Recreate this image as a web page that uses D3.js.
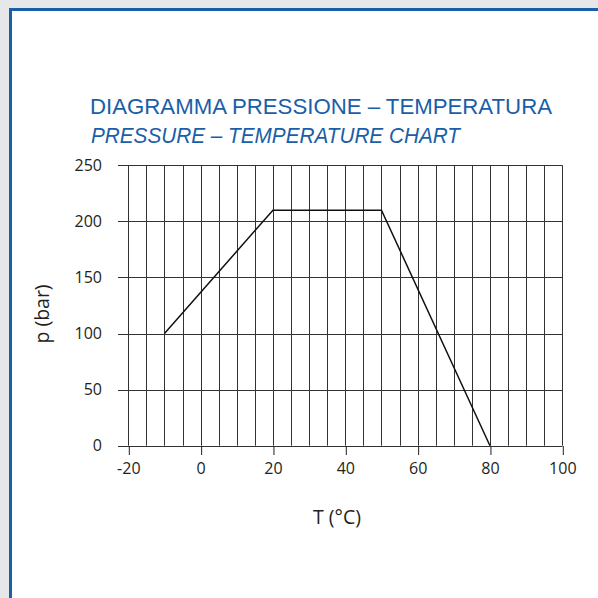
<!DOCTYPE html>
<html><head><meta charset="utf-8">
<script src="https://cdn.jsdelivr.net/npm/d3@7"></script>
<style>html,body{margin:0;padding:0;background:#e6e7e8;}svg{display:block;}</style>
</head><body>
<script>
const temps = [-10, 20, 50, 80];
const pressures = [100, 210, 210, 0];
const xTickValues = [-20, 0, 20, 40, 60, 80, 100];
const yTickValues = [0, 50, 100, 150, 200, 250];
const xGridValues = d3.range(-20, 101, 5);
const titleIt = "DIAGRAMMA PRESSIONE – TEMPERATURA";
const titleEn = "PRESSURE – TEMPERATURE CHART";
const xLabel = "T (°C)";
const yLabel = "p (bar)";

const W = 598, H = 598;
const blue = "#1a5ea8";
const ink = "#231f20";
const font = "'Open Sans', 'DejaVu Sans', sans-serif";
const svg = d3.select("body").append("svg").attr("width", W).attr("height", H);
svg.append("rect").attr("width", W).attr("height", H).attr("fill", "#e6e7e8");
svg.append("rect").attr("x", 10.5).attr("y", 9.5).attr("width", 700).attr("height", 700)
  .attr("fill", "#fff").attr("stroke", blue).attr("stroke-width", 3);

const x = d3.scaleLinear().domain([-20, 100]).range([128.3, 562.3]);
const y = d3.scaleLinear().domain([0, 250]).range([445.7, 165.3]);

const grid = svg.append("g").attr("stroke", "#333").attr("stroke-width", 1).attr("fill", "none");
grid.selectAll("line.v").data(xGridValues).join("line").attr("class", "v")
  .attr("x1", d => Math.round(x(d)) + 0.5).attr("x2", d => Math.round(x(d)) + 0.5)
  .attr("y1", y(250)).attr("y2", y(0));
grid.selectAll("line.h").data(yTickValues).join("line").attr("class", "h")
  .attr("x1", 118).attr("x2", Math.round(x(100)) + 0.5)
  .attr("y1", d => Math.round(y(d)) + 0.5).attr("y2", d => Math.round(y(d)) + 0.5);

// y tick labels
svg.append("g").selectAll("text").data(yTickValues).join("text")
  .attr("x", 102).attr("y", d => y(d)).attr("dy", "0.36em").attr("text-anchor", "end")
  .attr("font-family", font).attr("font-size", 16).attr("fill", ink)
  .text(d => String(d));

// x axis ticks
const xAxis = d3.axisBottom(x).tickValues(xTickValues).tickSize(9).tickFormat(d => String(d));
const gx = svg.append("g").attr("transform", `translate(0,${Math.round(y(0))})`).call(xAxis);
gx.select(".domain").remove();
gx.selectAll(".tick line").attr("stroke", ink).attr("transform", "translate(0.5,0)");
gx.selectAll(".tick text").attr("font-family", font)
  .attr("font-size", 16).attr("fill", ink).attr("y", 28).attr("dy", 0);

// data line
svg.append("path").datum(temps.map((t, i) => [t, pressures[i]]))
  .attr("d", d3.line().x(d => x(d[0])).y(d => y(d[1])))
  .attr("fill", "none").attr("stroke", "#111").attr("stroke-width", 1.5);

// titles
svg.append("text").attr("x", 90).attr("y", 113.5).attr("fill", blue)
  .attr("font-family", "'Liberation Sans', Arial, sans-serif").attr("font-size", 22.5)
  .attr("textLength", 462).attr("lengthAdjust", "spacingAndGlyphs").text(titleIt);
svg.append("text").attr("x", 91).attr("y", 142.5).attr("fill", blue).attr("font-style", "italic")
  .attr("font-family", "'Liberation Sans', Arial, sans-serif").attr("font-size", 22.5)
  .attr("textLength", 369).attr("lengthAdjust", "spacingAndGlyphs").text(titleEn);

// axis labels
svg.append("text").attr("x", 337).attr("y", 524).attr("text-anchor", "middle")
  .attr("font-family", font).attr("font-size", 19.5).attr("fill", ink)
  .text(xLabel);
svg.append("text").attr("transform", "translate(48.5,314) rotate(-90)").attr("text-anchor", "middle")
  .attr("font-family", font).attr("font-size", 19.5).attr("fill", ink)
  .text(yLabel);
</script>
</body></html>
